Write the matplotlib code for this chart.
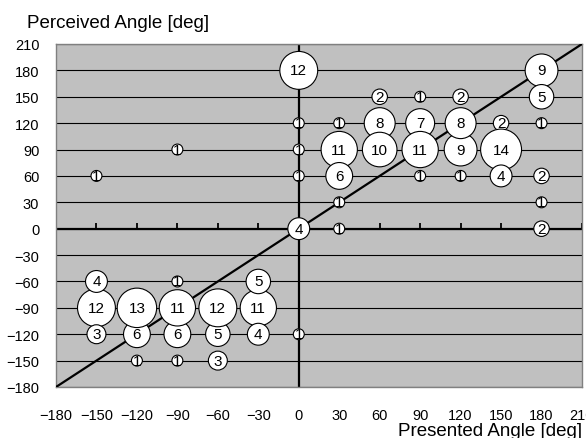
import matplotlib
matplotlib.use("Agg")
import matplotlib.pyplot as plt


# Bubble data: presented angle, perceived angle, number of responses
presented = [0, 180, 180,
             60, 90, 120,
             0, 30, 60, 90, 150, 180,
             -90, 0, 30, 60, 90, 120, 120, 150,
             -150, 0, 30, 90, 120, 150, 180,
             30, 180,
             0, 30, 180,
             -150, -150, -150, -90,
             -120, -120, -90, -90, -60, -60, -30, -30, -30,
             0,
             -120, -90, -60]
perceived = [180, 180, 150,
             150, 150, 150,
             120, 120, 120, 120, 120, 120,
             90, 90, 90, 90, 90, 90, 120, 90,
             60, 60, 60, 60, 60, 60, 60,
             30, 30,
             0, 0, 0,
             -90, -60, -120, -60,
             -120, -90, -120, -90, -120, -90, -90, -60, -120,
             -120,
             -150, -150, -150]
counts = [12, 9, 5,
          2, 1, 2,
          1, 1, 8, 7, 2, 1,
          1, 1, 11, 10, 11, 9, 8, 14,
          1, 1, 6, 1, 1, 4, 2,
          1, 1,
          4, 1, 2,
          12, 4, 3, 1,
          6, 13, 6, 11, 5, 12, 11, 5, 4,
          1,
          1, 1, 3]

ticks = list(range(-180, 211, 30))

plt.rcParams['font.family'] = ['Liberation Sans', 'DejaVu Sans']

fig = plt.figure(figsize=(5.86, 4.39), dpi=100)
ax = fig.add_axes([56 / 586, 1 - 388 / 439, 526 / 586, 343 / 439])
ax.set_facecolor('#c0c0c0')
ax.set_xlim(-180, 210)
ax.set_ylim(-180, 210)

for s in ax.spines.values():
    s.set_color('#808080')
    s.set_linewidth(1)

# horizontal gridlines
for t in ticks:
    ax.axhline(t, color='black', lw=0.8, zorder=1)

# axes crossing at zero
ax.axhline(0, color='black', lw=1.6, zorder=2)
ax.axvline(0, color='black', lw=1.6, zorder=2)
ax.plot(ticks, [0] * len(ticks), ls='', marker=2, ms=4, mew=1.3,
        color='black', zorder=2)

# identity line
ax.plot([-180, 210], [-180, 210], color='black', lw=1.6, zorder=3)

# bubbles
ax.scatter(presented, perceived, s=[62 * c for c in counts],
           facecolor='white', edgecolor='black', linewidth=0.8,
           zorder=4, clip_on=False)
for x, y, c in zip(presented, perceived, counts):
    ax.text(x, y, str(c), ha='center', va='center', fontsize=11,
            zorder=5)

ax.set_xticks(ticks)
ax.set_yticks(ticks)
ax.set_xticklabels(['\u2212' + str(-t) if t < 0 else str(t) for t in ticks])
ax.set_yticklabels(['\u2212' + str(-t) if t < 0 else str(t) for t in ticks])
ax.tick_params(axis='both', length=0, labelsize=10.5)
ax.tick_params(axis='x', pad=15)
ax.tick_params(axis='y', pad=12)

fig.text(27 / 586, 1 - 23 / 439, 'Perceived Angle [deg]', ha='left',
         va='center', fontsize=13.5)
fig.text(398 / 586, 1 - 432 / 439, 'Presented Angle [deg]', ha='left',
         va='center', fontsize=13.5)

fig.savefig('out.png', dpi=100)
